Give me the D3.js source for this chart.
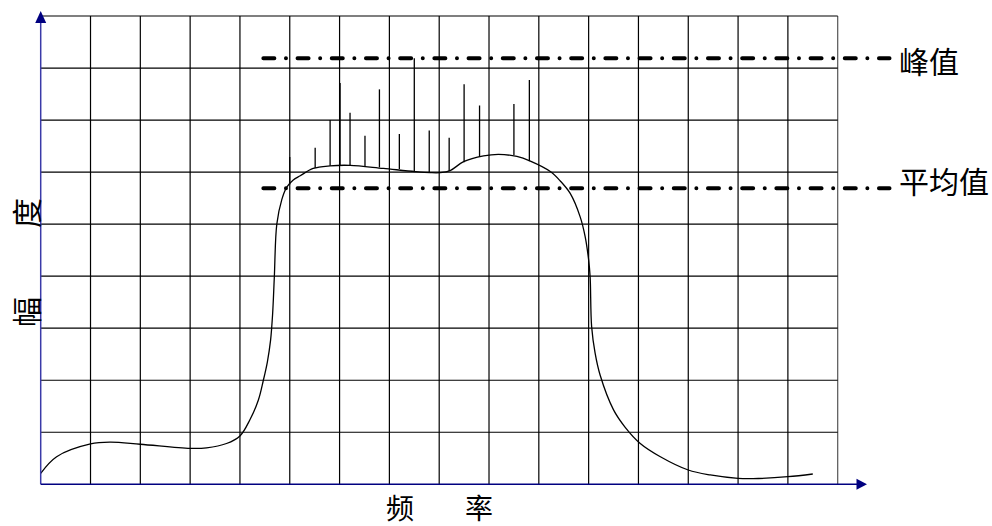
<!DOCTYPE html>
<html><head><meta charset="utf-8">
<script src="https://cdn.jsdelivr.net/npm/d3@7"></script>
<style>html,body{margin:0;padding:0;background:#fff;}svg{display:block;}</style>
</head><body>
<script>
// grid: 16 columns of frequency, 9 rows of amplitude
const xTicks = d3.range(0, 17);
const yTicks = d3.range(0, 10);
// envelope curve (frequency units, amplitude units)
const curveFreq = [0,0.32,1.0,1.39,2.0,3.0,3.33,3.73,4.0,4.2,4.37,4.47,4.55,4.615,4.655,4.69,4.74,4.84,4.94,5.07,5.21,5.47,5.81,6.21,6.88,7.52,7.82,8.02,8.22,8.49,8.89,9.19,9.56,9.83,10.23,10.43,10.63,10.83,10.93,11.0,11.03,11.06,11.13,11.23,11.5,11.73,12.03,12.44,13.0,13.44,14.0,14.3,15.0,15.5];
const curveAmp  = [0.21,0.53,0.775,0.81,0.77,0.69,0.70,0.784,0.93,1.24,1.62,2.0,2.35,2.77,3.26,3.98,5.0,5.47,5.71,5.85,5.93,6.07,6.12,6.13,6.07,6.01,5.99,5.99,6.03,6.20,6.31,6.34,6.30,6.21,6.01,5.83,5.59,5.14,4.76,4.31,3.99,3.03,2.52,2.10,1.43,1.10,0.79,0.53,0.275,0.18,0.115,0.11,0.146,0.198];
// spikes
const spikeFreq = [5.0,5.51,5.81,6.01,6.21,6.51,6.80,7.20,7.50,7.80,8.20,8.50,8.81,9.50,9.81];
const spikeTop  = [6.29,6.47,7.0,7.71,7.14,6.70,7.59,6.73,8.19,6.80,6.66,7.69,7.28,7.31,7.77];
const spikeBase = [5.76,6.08,6.12,6.12,6.13,6.11,6.09,6.06,6.02,6.00,6.02,6.19,6.29,6.33,6.21];
// reference levels
const refNames = ["峰值","平均值"];
const refLevels = [8.19, 5.69];
const refStart = 4.47, refEnd = 17.04;

const W = 992, H = 526;
const svg = d3.select("body").append("svg").attr("width", W).attr("height", H);
const x = d3.scaleLinear().domain([0,16]).range([40.7, 837.7]);
const y = d3.scaleLinear().domain([0,9]).range([484.3, 16]);
const font = "'Noto Sans CJK SC', sans-serif";

// grid
const g = svg.append("g");
g.selectAll("line.v").data(xTicks.slice(1)).join("line")
  .attr("x1", d=>x(d)).attr("x2", d=>x(d)).attr("y1", y(0)).attr("y2", y(9))
  .attr("stroke", (d)=> d===16 ? "#555" : "#000").attr("stroke-width", 1.2);
g.selectAll("line.h").data(yTicks.slice(1)).join("line")
  .attr("x1", x(0)).attr("x2", x(16)).attr("y1", d=>y(d)).attr("y2", d=>y(d))
  .attr("stroke", "#000").attr("stroke-width", 1.2);

// reference dash-dot lines
svg.selectAll("line.ref").data(refLevels).join("line")
  .attr("x1", x(refStart)).attr("x2", x(refEnd))
  .attr("y1", d=>y(d)).attr("y2", d=>y(d))
  .attr("stroke", "#000").attr("stroke-width", 4)
  .attr("stroke-linecap", "round")
  .attr("stroke-dasharray", "11,11.6,0,11.6");

// spikes
svg.selectAll("line.spike").data(spikeFreq).join("line")
  .attr("x1", d=>x(d)).attr("x2", d=>x(d))
  .attr("y1", (d,i)=>y(spikeTop[i])).attr("y2", (d,i)=>y(spikeBase[i]))
  .attr("stroke", "#000").attr("stroke-width", 1.3);

// envelope
const pts = curveFreq.map((f,i)=>[f, curveAmp[i]]);
svg.append("path").datum(pts)
  .attr("d", d3.line().x(d=>x(d[0])).y(d=>y(d[1])).curve(d3.curveCatmullRom.alpha(0.5)))
  .attr("fill", "none").attr("stroke", "#000").attr("stroke-width", 1.3);

// axes
svg.append("line").attr("x1", x(0)).attr("x2", x(0)).attr("y1", y(0)).attr("y2", 22)
  .attr("stroke", "#3a3aa8").attr("stroke-width", 1.5);
svg.append("path").attr("d", `M${x(0)},11 L${x(0)-5.5},23 L${x(0)+5.5},23 Z`).attr("fill", "#000080");
svg.append("line").attr("x1", x(0)).attr("x2", 858).attr("y1", y(0)).attr("y2", y(0))
  .attr("stroke", "#000080").attr("stroke-width", 1.5);
svg.append("path").attr("d", `M867,${y(0)} L856.5,${y(0)-5.5} L856.5,${y(0)+5.5} Z`).attr("fill", "#000080");

// reference labels
svg.selectAll("text.ref").data(refNames).join("text")
  .attr("x", 899).attr("y", (d,i)=>y(refLevels[i]) + (i===0 ? 2 : -8))
  .attr("dominant-baseline", "central")
  .attr("font-family", font).attr("font-size", 30).attr("fill", "#000")
  .text(d=>d);

// axis titles
const yLab = ["幅","度"], yLabPos = [312, 213];
svg.selectAll("text.yl").data(yLab).join("text")
  .attr("transform", (d,i)=>`translate(25,${yLabPos[i]}) rotate(-90)`)
  .attr("text-anchor", "middle").attr("dominant-baseline", "central")
  .attr("font-family", font).attr("font-size", 30).text(d=>d);
const xLab = ["频","率"], xLabPos = [400, 479];
svg.selectAll("text.xl").data(xLab).join("text")
  .attr("x", (d,i)=>xLabPos[i]).attr("y", 519)
  .attr("text-anchor", "middle")
  .attr("font-family", font).attr("font-size", 28).text(d=>d);
</script>
</body></html>
